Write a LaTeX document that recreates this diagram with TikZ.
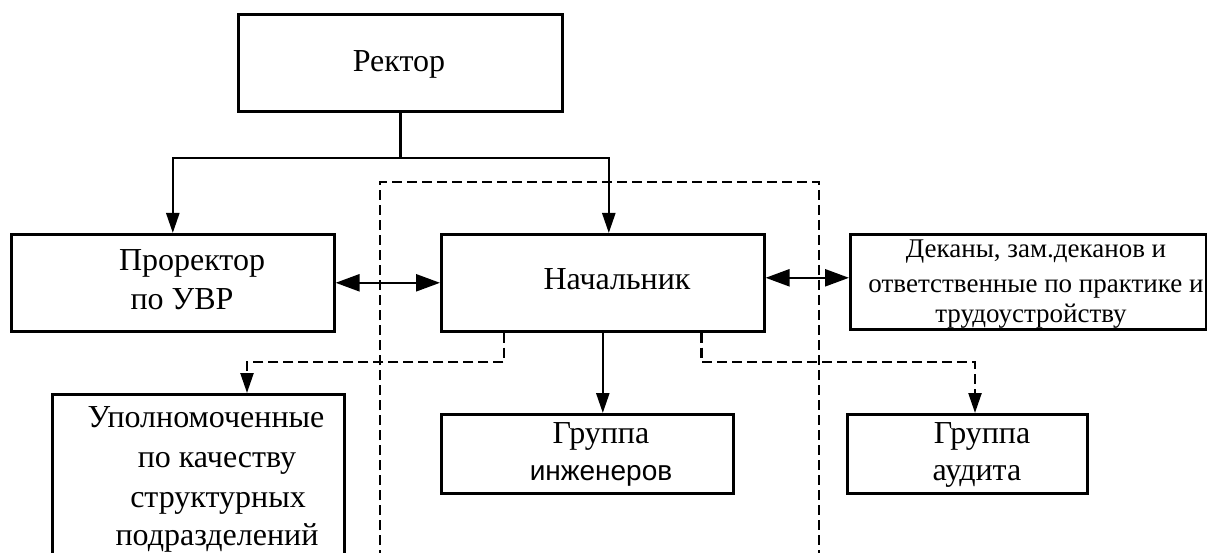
\documentclass[tikz,border=0pt]{standalone}
\usepackage{fontspec}
\setmainfont{Liberation Serif}
\newfontfamily\arialf{Liberation Sans}
\usetikzlibrary{arrows.meta}
\begin{document}
\begin{tikzpicture}[x=1pt,y=-1pt,
  box/.style={draw, line width=2.6pt, inner sep=0pt, anchor=north west},
  ln/.style={line width=2.4pt},
  dsh/.style={line width=2.4pt, dash pattern=on 10pt off 5pt},
  arr/.style={-{Triangle[length=20pt,width=13pt]}},
  darr/.style={{Triangle[length=24pt,width=17pt]}-{Triangle[length=24pt,width=17pt]}},
  tx/.style={anchor=base, inner sep=0pt, font=\fontsize{32}{38}\selectfont},
  txs/.style={anchor=base, inner sep=0pt, font=\fontsize{27}{32}\selectfont},
  txa/.style={anchor=base, inner sep=0pt, font=\arialf\fontsize{28}{34}\selectfont}]
\useasboundingbox (0,0) rectangle (1207,553);
\clip (0,0) rectangle (1207,553);
\fill[white] (0,0) rectangle (1207,553);

% boxes
\node[box, minimum width=324pt, minimum height=97pt] (rector) at (237,13) {};
\node[box, minimum width=323pt, minimum height=97pt] (pror) at (10,233) {};
\node[box, minimum width=323pt, minimum height=97pt] (nach) at (440,233) {};
\node[box, minimum width=356pt, minimum height=95pt] (dek) at (849,233) {};
\node[box, minimum width=292pt, minimum height=200pt] (upol) at (51,393) {};
\node[box, minimum width=292pt, minimum height=79pt] (grp) at (440,413) {};
\node[box, minimum width=240pt, minimum height=79pt] (aud) at (846,413) {};

% texts
\node[tx] (t1) at (399,72) {Ректор};
\node[tx] (t2) at (192,271) {Проректор};
\node[tx] (t3) at (182,309) {по УВР};
\node[tx] (t4) at (617,290) {Начальник};
\node[txs] (t5) at (1036,258) {Деканы, зам.деканов и};
\node[txs] (t6) at (1036,292) {ответственные по практике и};
\node[txs] (t7) at (1031,322) {трудоустройству};
\node[tx] (t8) at (206,427) {Уполномоченные};
\node[tx] (t9) at (217,467) {по качеству};
\node[tx] (t10) at (218,507) {структурных};
\node[tx] (t11) at (217,545) {подразделений};
\node[tx] (t12) at (601,443) {Группа};
\node[txa] (t13) at (601,480) {инженеров};
\node[tx] (t14) at (982,443) {Группа};
\node[tx] (t15) at (977,480) {аудита};

% dashed frame
\draw[dsh] (380,560) -- (380,182) -- (819,182) -- (819,560);

% connectors
\coordinate (rj) at (rector.south |- 0,158);
\draw[ln] (rector.south) -- (rj);
\draw[ln,arr] (rj) -| (pror.north);
\draw[ln,arr] (rj) -| ([xshift=6pt]nach.north);
\draw[ln,darr] (pror.east) -- (pror.east -| nach.west);
\draw[ln,darr] ([yshift=5pt]nach.east) -- ([yshift=5pt]nach.east -| dek.west);
\draw[ln,arr] (nach.south) -- (nach.south |- grp.north);
\coordinate (lj) at (247,362);
\coordinate (rjj) at (975,362);
\draw[dsh,arr] ([xshift=64pt]nach.south west) |- (lj) -- (lj |- upol.north);
\draw[dsh,arr] ([xshift=-64pt]nach.south east) |- (rjj) -- (rjj |- aud.north);
\end{tikzpicture}
\end{document}
